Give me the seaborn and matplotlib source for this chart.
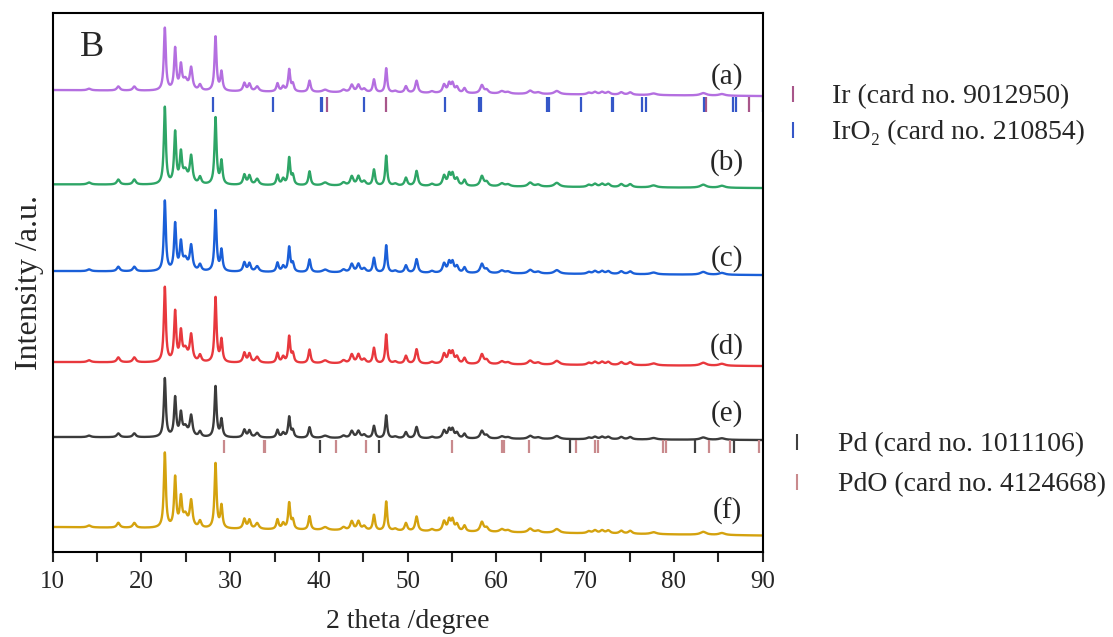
import numpy as np
import pandas as pd
import matplotlib
matplotlib.use("Agg")
import matplotlib.pyplot as plt
import seaborn as sns
from matplotlib.lines import Line2D

# ---------------- data ----------------
peak_pos = [14.1, 17.4, 19.2, 22.64, 23.8, 24.45, 24.95, 25.6, 26.6, 28.35, 29.02,
            31.6, 32.17, 33.04, 35.33, 35.97, 36.65, 37.06, 38.94, 40.7, 42.77,
            43.7, 44.45, 45.1, 46.2, 47.58, 48.6, 49.8, 51.0, 52.73, 54.1, 54.67,
            55.05, 55.55, 56.4, 58.36, 58.9, 60.6, 61.3, 63.8, 64.7, 66.8, 70.4,
            71.1, 71.9, 72.6, 74.06, 75.07, 77.7, 83.3, 85.4]
peak_height = [2, 5, 5, 77, 51, 29, 12, 27, 7, 67, 23,
               10, 9, 6, 10, 6, 27, 9, 14, 3, 3,
               9, 9, 4, 16, 30, 2, 8, 15, 2, 10, 11,
               11, 7, 6, 10, 4, 3, 2, 4, 2, 4, 2,
               3, 3, 3, 3, 3, 2, 3, 2]
peak_fwhm = [0.5, 0.4, 0.4, 0.27, 0.28, 0.3, 0.6, 0.36, 0.35, 0.27, 0.28,
             0.35, 0.35, 0.45, 0.3, 0.35, 0.28, 0.3, 0.3, 0.7, 0.5,
             0.4, 0.4, 0.45, 0.3, 0.26, 0.5, 0.35, 0.35, 0.5, 0.4, 0.35,
             0.35, 0.4, 0.35, 0.45, 0.45, 0.6, 0.6, 0.6, 0.6, 0.7, 0.5,
             0.5, 0.5, 0.5, 0.5, 0.5, 0.8, 0.8, 0.8]

sample_labels = ["(a)", "(b)", "(c)", "(d)", "(e)", "(f)"]
sample_scale = [0.81, 1.0, 0.91, 0.97, 0.76, 0.97]
baseline_left = [462, 367.7, 281, 190, 115, 25]
baseline_right = [456, 364, 277, 186, 112, 16.5]
label_y = [476, 390, 294, 206, 139, 41]
sample_colors = ["#b46fe0", "#2ea566", "#1a5fd8", "#e8383d", "#3b3b3b", "#d4a20e"]

ir_pos = [40.9, 47.57, 83.6, 88.5]
iro2_pos = [28.12, 34.77, 40.2, 40.35, 45.13, 54.2, 58.05, 58.3, 65.75, 65.95,
            69.47, 73.0, 73.15, 76.45, 76.8, 83.4, 86.7, 87.0, 90.0]
pd_pos = [40.14, 46.75, 68.3, 82.4, 86.8]
pdo_pos = [29.25, 33.76, 33.92, 41.94, 45.35, 54.95, 60.6, 60.9, 63.65, 68.97,
           71.1, 71.4, 78.8, 79.05, 84.0, 86.3, 89.6]

ref_labels = ["Ir (card no. 9012950)", "IrO\u2082 (card no. 210854)",
              "Pd (card no. 1011106)", "PdO (card no. 4124668)"]
ref_colors = ["#a8568a", "#3557c8", "#404040", "#c98a8d"]

x_ticks = [10, 20, 30, 40, 50, 60, 70, 80, 90]

# ---------------- build profiles ----------------
tt = np.linspace(10, 90, 4001)
rows = []
for i, lab in enumerate(sample_labels):
    prof = np.zeros_like(tt)
    for p, h, w in zip(peak_pos, peak_height, peak_fwhm):
        g = w / 2.0
        prof += h * g**2 / ((tt - p)**2 + g**2)
    base = baseline_left[i] + (baseline_right[i] - baseline_left[i]) * (tt - 10) / 80.0
    y = base + sample_scale[i] * prof
    rows.append(pd.DataFrame({"two_theta": tt, "intensity": y, "sample": lab}))
df = pd.concat(rows, ignore_index=True)

# ---------------- plot ----------------
sns.set_theme(style="white")
plt.rcParams["font.family"] = ["Liberation Serif", "DejaVu Serif"]

fig = plt.figure(figsize=(11.13, 6.37), dpi=100)
ax = fig.add_axes([0.0473, 0.1334, 0.638, 0.8456])

sns.lineplot(data=df, x="two_theta", y="intensity", hue="sample",
             palette=dict(zip(sample_labels, sample_colors)), estimator=None,
             sort=False, linewidth=1.7, legend=False, ax=ax)

ax.vlines(ir_pos, 440, 455, colors=ref_colors[0], linewidth=1.6)
ax.vlines(iro2_pos, 440, 455, colors=ref_colors[1], linewidth=1.6)
ax.vlines(pd_pos, 99, 112, colors=ref_colors[2], linewidth=1.6)
ax.vlines(pdo_pos, 99, 112, colors=ref_colors[3], linewidth=1.6)

for lab, yv in zip(sample_labels, label_y):
    ax.text(86.0, yv, lab, ha="center", va="center", fontsize=21)

ax.text(0.055, 0.936, "B", transform=ax.transAxes, ha="center", va="center", fontsize=26)

ax.set_xlim(10, 90)
ax.set_ylim(0, 538.7)
ax.set_xticks(x_ticks)
ax.set_xticks([15, 25, 35, 45, 55, 65, 75, 85], minor=True)
ax.set_yticks([])
ax.tick_params(axis="x", which="both", direction="out", length=7, width=1.5,
               bottom=True, labelsize=18, pad=7)
for s in ax.spines.values():
    s.set_visible(True)
    s.set_linewidth(1.5)
    s.set_color("black")
ax.set_xlabel("2 theta /degree", fontsize=20, labelpad=11)
ax.set_ylabel("Intensity /a.u.", fontsize=23, labelpad=6)

h1 = [Line2D([0], [0], color=c, marker="|", linestyle="None", markersize=12,
             markeredgewidth=1.5) for c in ref_colors[:2]]
h2 = [Line2D([0], [0], color=c, marker="|", linestyle="None", markersize=12,
             markeredgewidth=1.5) for c in ref_colors[2:]]
leg1 = ax.legend(h1, ref_labels[:2], loc="upper left", bbox_to_anchor=(779 / 1113, 1 - 84 / 637),
                 bbox_transform=fig.transFigure, frameon=False, fontsize=20,
                 handlelength=1.0, handletextpad=0.9, borderpad=0, borderaxespad=0,
                 labelspacing=0.38)
ax.add_artist(leg1)
ax.legend(h2, ref_labels[2:], loc="upper left", bbox_to_anchor=(783 / 1113, 1 - 432 / 637),
          bbox_transform=fig.transFigure, frameon=False, fontsize=20,
          handlelength=1.0, handletextpad=0.98, borderpad=0, borderaxespad=0,
          labelspacing=0.53)

fig.savefig("out.png", dpi=100)
